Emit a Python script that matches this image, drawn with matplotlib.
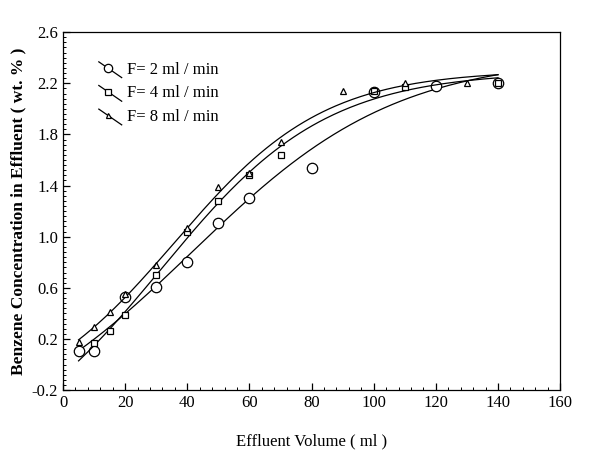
import matplotlib
matplotlib.use("Agg")
import matplotlib.pyplot as plt
from matplotlib.ticker import MultipleLocator, FixedLocator, FormatStrFormatter
import numpy as np

# data
vol_f2 = [5, 10, 20, 30, 40, 50, 60, 80, 100, 120, 140]
conc_f2 = [0.11, 0.11, 0.53, 0.61, 0.80, 1.11, 1.30, 1.54, 2.13, 2.18, 2.20]

vol_f4 = [10, 15, 20, 30, 40, 50, 60, 70, 100, 110, 140]
conc_f4 = [0.17, 0.26, 0.39, 0.70, 1.04, 1.28, 1.48, 1.64, 2.14, 2.17, 2.20]

vol_f8 = [5, 10, 15, 20, 30, 40, 50, 60, 70, 90, 110, 130]
conc_f8 = [0.18, 0.29, 0.41, 0.55, 0.78, 1.07, 1.39, 1.50, 1.74, 2.14, 2.20, 2.20]

labels = ["F= 2 ml / min", "F= 4 ml / min", "F= 8 ml / min"]


def logistic_fit(x, y):
    # breakthrough-style S curve: a + b / (1 + exp(-(x - x0) / s))
    best = None
    for x0 in np.linspace(10, 90, 161):
        for s in np.linspace(5, 50, 91):
            f = 1.0 / (1.0 + np.exp(-(x - x0) / s))
            A = np.column_stack([np.ones_like(x), f])
            coef, *_ = np.linalg.lstsq(A, y, rcond=None)
            r = np.sum((A @ coef - y) ** 2)
            if best is None or r < best[0]:
                best = (r, x0, s, coef)
    _, x0, s, coef = best
    return lambda t: coef[0] + coef[1] / (1.0 + np.exp(-(t - x0) / s))


plt.rcParams["font.family"] = ["Liberation Serif", "DejaVu Serif"]

fig = plt.figure(figsize=(5.89, 4.59), dpi=100)
ax = fig.add_axes([0.107, 0.150, 0.844, 0.780])

series = [(vol_f2, conc_f2, "o", 7.5), (vol_f4, conc_f4, "s", 5), (vol_f8, conc_f8, "^", 4.5)]
for xv, yv, mk, ms in series:
    xv = np.array(xv, float)
    yv = np.array(yv, float)
    fn = logistic_fit(xv, yv)
    xs = np.linspace(5, 140, 200)
    ax.plot(xs, fn(xs), color="black", lw=0.9)
    ax.plot(xv, yv, linestyle="none", marker=mk, ms=ms, mfc="white", mec="black", mew=0.9)

# hand-drawn style legend: slanted line with marker
for i, ((_, _, mk, ms), lab) in enumerate(zip(series, labels)):
    y0 = 0.895 - i * 0.066
    ax.plot([0.072, 0.118], [y0 + 0.022, y0 - 0.022], color="black", lw=0.9,
            transform=ax.transAxes)
    ax.plot([0.090], [y0 + 0.005], marker=mk, ms=ms * 0.8, mfc="white", mec="black",
            mew=0.9, transform=ax.transAxes)
    ax.text(0.128, y0, lab, transform=ax.transAxes, va="center", fontsize=12)

ax.set_xlim(0, 160)
ax.set_ylim(-0.2, 2.6)
ax.xaxis.set_major_locator(MultipleLocator(20))
ax.xaxis.set_minor_locator(MultipleLocator(4))
ax.yaxis.set_major_locator(FixedLocator(np.arange(-0.2, 2.61, 0.4)))
ax.yaxis.set_minor_locator(FixedLocator(np.arange(-0.2, 2.61, 0.04)))
ax.yaxis.set_major_formatter(FormatStrFormatter("%.1f"))
ax.tick_params(which="major", direction="in", length=5, labelsize=12, width=0.9)
ax.tick_params(which="minor", direction="in", length=2.5, width=0.7)
for s in ax.spines.values():
    s.set_linewidth(0.9)

ax.set_xlabel("Effluent Volume ( ml )", fontsize=12, labelpad=16)
ax.set_ylabel("Benzene Concentration in Effluent ( wt. % )", fontsize=12.5,
              fontweight="bold", labelpad=4)

fig.savefig("out.png", dpi=100)
